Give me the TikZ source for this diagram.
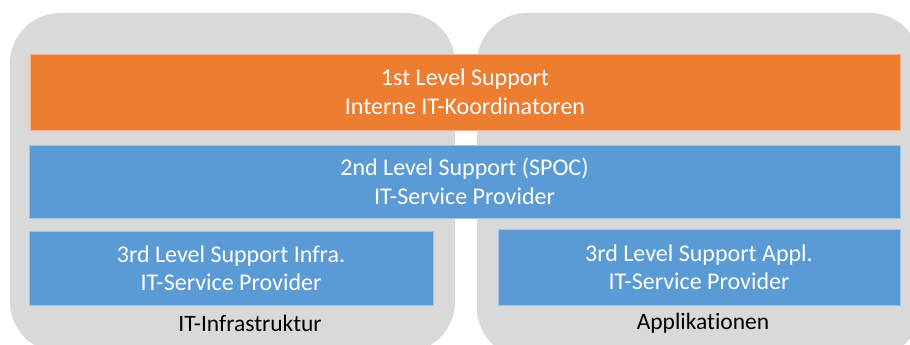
\documentclass[tikz,border=0pt]{standalone}
\usepackage{fontspec}
\setmainfont[Ligatures=NoCommon]{Carlito}
\definecolor{bggray}{HTML}{D9D9D9}
\definecolor{orangebox}{HTML}{ED7D31}
\definecolor{bluebox}{HTML}{5B9BD5}
\definecolor{boxedge}{HTML}{9DC3E6}
\definecolor{orangeedge}{HTML}{F4B183}
\tikzset{
  px/.style={x=1pt,y=-1pt},
  area/.style={fill=bggray, draw=none, rounded corners=50pt},
  lvlbox/.style={fill=bluebox, draw=boxedge, line width=0.6pt, text=white, align=center, font=\fontsize{24}{28.5}\selectfont, inner sep=0pt},
  firstbox/.style={fill=orangebox, draw=orangeedge, line width=0.6pt, text=white, align=center, font=\fontsize{24}{28.5}\selectfont, inner sep=0pt},
  arealabel/.style={text=black, font=\fontsize{23.5}{26}\selectfont, inner sep=0pt}
}
\begin{document}
\begin{tikzpicture}[px]
\useasboundingbox (0,0) rectangle (910,345);
\clip (0,0) rectangle (910,345);
\fill[area] (10,13) rectangle (455,352);
\fill[area] (477,13) rectangle (920,358);
\node[firstbox, minimum width=870pt, minimum height=76pt] (first) at (465,92) {1st Level Support\\Interne IT-Koordinatoren};
\node[lvlbox, minimum width=871pt, minimum height=73pt] (second) at (464.5,181.5) {2nd Level Support (SPOC)\\IT-Service Provider};
\node[lvlbox, minimum width=404pt, minimum height=74pt] (thirdinfra) at (231,268) {3rd Level Support Infra.\\IT-Service Provider};
\node[lvlbox, minimum width=402pt, minimum height=76pt] (thirdappl) at (699,267) {3rd Level Support Appl.\\IT-Service Provider};
\node[arealabel] (infra) at (250,323) {IT-Infrastruktur};
\node[arealabel] (appl) at (703,323) {Applikationen};
\end{tikzpicture}
\end{document}
